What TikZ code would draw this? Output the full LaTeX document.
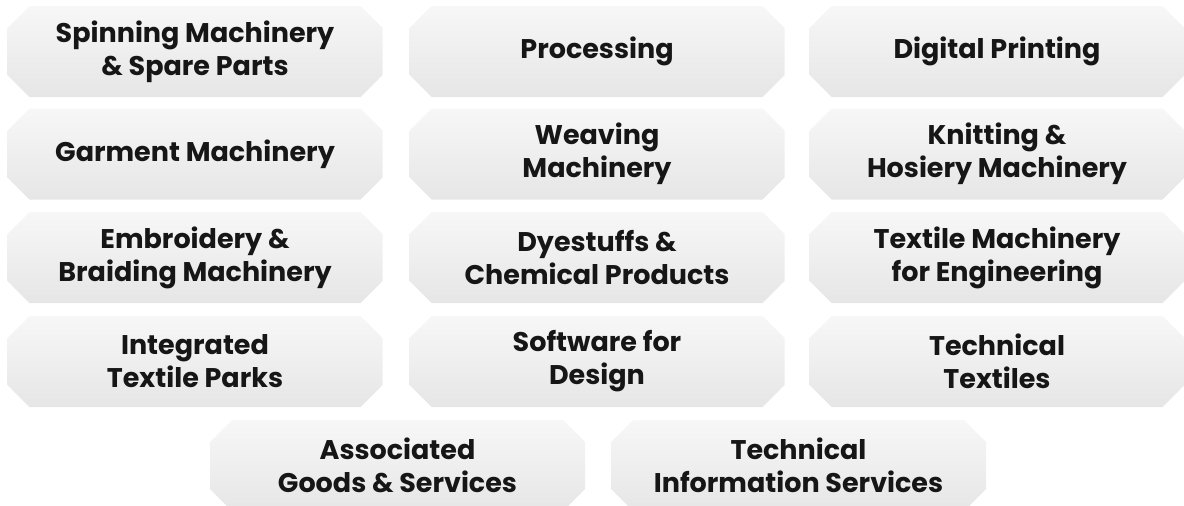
\documentclass[tikz,border=0pt]{standalone}
\usepackage{fontspec}
\setmainfont{Poppins}
\usetikzlibrary{shapes.misc}
\definecolor{boxtop}{HTML}{F7F7F7}
\definecolor{boxbot}{HTML}{E6E6E6}
\definecolor{txt}{HTML}{161616}
\tikzset{
  cat/.style={chamfered rectangle, chamfered rectangle xsep=11pt, chamfered rectangle ysep=11pt,
    chamfered rectangle corners={north west,north east,south west,south east},
    minimum width=375pt, minimum height=91pt, inner sep=0pt,
    top color=boxtop, bottom color=boxbot, draw=none,
    text=txt, align=center, font=\fontsize{27}{33}\selectfont\bfseries},
}
\begin{document}
\begin{tikzpicture}[x=1pt,y=-1pt]
\useasboundingbox (0,0) rectangle (1184,506);
\node[cat] (n1) at (195,51.5) {Spinning Machinery\\\& Spare Parts};
\node[cat] (n2) at (597,51.5) {Processing};
\node[cat] (n3) at (997,51.5) {Digital Printing};
\node[cat] (n4) at (195,154) {Garment Machinery};
\node[cat] (n5) at (597,154) {Weaving\\Machinery};
\node[cat] (n6) at (997,154) {Knitting \&\\Hosiery Machinery};
\node[cat] (n7) at (195,257.5) {Embroidery \&\\Braiding Machinery};
\node[cat] (n8) at (597,257.5) {Dyestuffs \&\\Chemical Products};
\node[cat] (n9) at (997,257.5) {Textile Machinery\\for Engineering};
\node[cat] (n10) at (195,361.5) {Integrated\\Textile Parks};
\node[cat] (n11) at (597,361.5) {Software for\\Design};
\node[cat] (n12) at (997,361.5) {Technical\\Textiles};
\node[cat] (n13) at (397.5,465.5) {Associated\\Goods \& Services};
\node[cat] (n14) at (798.5,465.5) {Technical\\Information Services};
\end{tikzpicture}
\end{document}
